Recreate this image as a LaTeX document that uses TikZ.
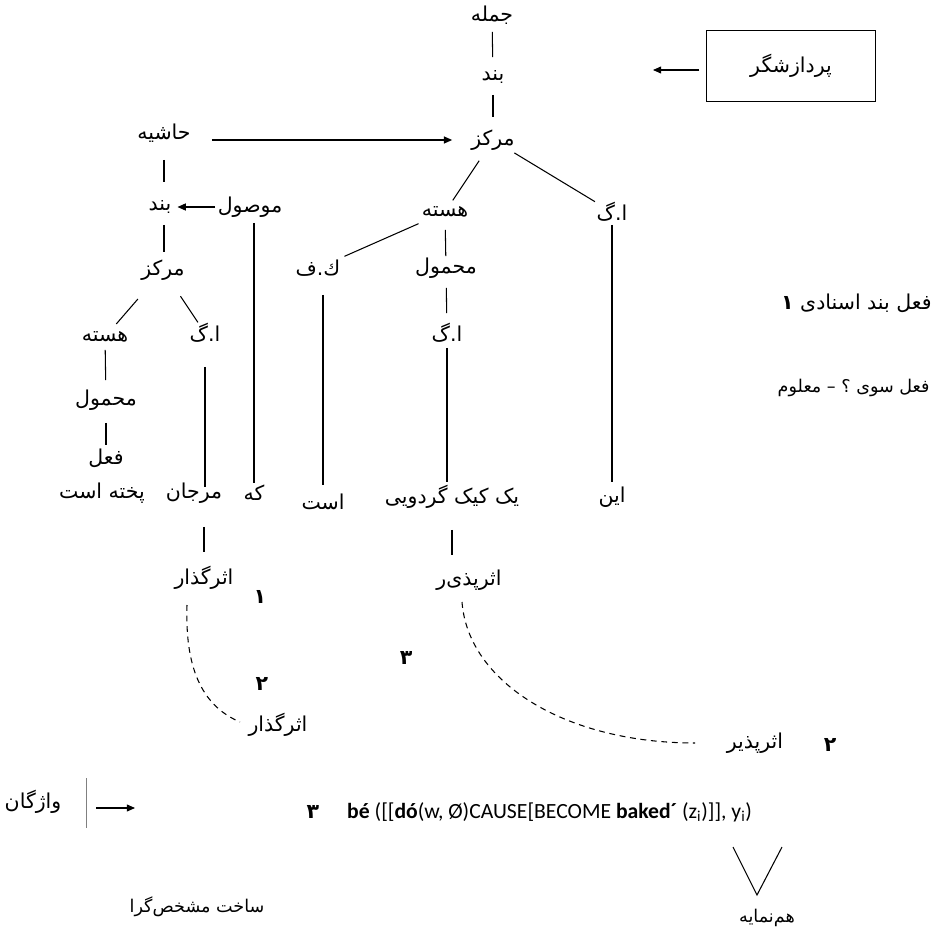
\documentclass[tikz,border=0pt]{standalone}
\usepackage{fontspec}
\usetikzlibrary{arrows.meta}
\TeXXeTstate=1
\newfontfamily\farsifont[Script=Arabic]{DejaVu Sans}
\newfontfamily\lsrfont{Carlito}
\newcommand{\fatext}[1]{{\farsifont\beginR #1\endR}}

\begin{document}
\begin{tikzpicture}[
    x=0.03cm, y=-0.03cm,
    >={Triangle[length=7pt, width=6pt]},
    %% ── node styles ──────────────────────────────────────────────────────────
    fanode/.style={inner sep=1pt, font=\fontsize{17.5}{20}\selectfont},
    fasmall/.style={inner sep=1pt, font=\fontsize{15}{18}\selectfont},
    fanum/.style={fanode, font=\fontsize{17.5}{20}\selectfont\bfseries},
    procbox/.style={draw, line width=0.9pt, minimum width=143.7pt,
        minimum height=61.2pt, font=\fontsize{17.5}{20}\selectfont},
    lsr/.style={inner sep=0pt, font=\lsrfont\fontsize{18.5}{22}\selectfont},
    %% ── edge styles ──────────────────────────────────────────────────────────
    branch/.style={line width=0.9pt},
    link/.style={->, line width=0.9pt},
    trace/.style={line width=0.9pt, dash pattern=on 5pt off 4pt},
    lexbar/.style={line width=0.4pt, draw=gray},
]
\useasboundingbox (0,0) rectangle (934,933);

%% ── Main clause tree ─────────────────────────────────────────────────────────
\node[fanode] (jomle)  at (492,15)  {\fatext{جمله}};
\node[fanode] (band)   at (493,77)  {\fatext{بند}};
\node[fanode] (markaz) at (493,140) {\fatext{مرکز}};
\node[fanode] (hasteh) at (445,212) {\fatext{هسته}};
\node[fanode] (gea)    at (612,212) {\fatext{ا.گ}};
\node[fanode] (fk)     at (318,268) {\fatext{ك.ف}};
\node[fanode] (mahmul) at (446,268) {\fatext{محمول}};
\node[fanode] (geb)    at (447,333) {\fatext{ا.گ}};

%% ── Relative clause (modifier) ───────────────────────────────────────────────
\node[fanode] (hashiye) at (164,133) {\fatext{حاشیه}};
\node[fanode] (band2)   at (160,207) {\fatext{بند}};
\node[fanode] (mowsul)  at (250,207) {\fatext{موصول}};
\node[fanode] (markaz2) at (163,270) {\fatext{مرکز}};
\node[fanode] (hasteh2) at (105,337) {\fatext{هسته}};
\node[fanode] (gel)     at (205,333) {\fatext{ا.گ}};
\node[fanode] (mahmul2) at (106,400) {\fatext{محمول}};
\node[fanode] (feel)    at (106,458) {\fatext{فعل}};

%% ── Sentence words ───────────────────────────────────────────────────────────
\node[fanode] (in)     at (612,497) {\fatext{این}};
\node[fanode] (yekkik) at (452,497) {\fatext{یک کیک گردویی}};
\node[fanode] (est)    at (323,502) {\fatext{است}};
\node[fanode] (ke)     at (254,493) {\fatext{که}};
\node[fanode] (marjan) at (194,493) {\fatext{مرجان}};
\node[fanode] (pokhte) at (102,493) {\fatext{پخته است}};

%% ── Roles ────────────────────────────────────────────────────────────────────
\node[fanode] (agent)    at (204,578) {\fatext{اثرگذار}};
\node[fanode] (patient)  at (469,580) {\fatext{اثرپذی‌ر}};
\node[fanum]  (n1)       at (260,597) {\fatext{۱}};
\node[fanum]  (n2a)      at (262,684) {\fatext{۲}};
\node[fanum]  (n3a)      at (406,658) {\fatext{۳}};
\node[fanode] (agent2)   at (278,725) {\fatext{اثرگذار}};
\node[fanode] (patient2) at (755,743) {\fatext{اثرپذیر}};
\node[fanum]  (n2b)      at (830,745) {\fatext{۲}};

%% ── Processor and notes ──────────────────────────────────────────────────────
\node[procbox] (proc) at (791,66) {\fatext{پردازشگر}};
\node[fanode, anchor=east] (predtype) at (933,303)
    {\fatext{فعل بند اسنادی {\bfseries ۱}}};
\node[fasmall, anchor=east] (voice) at (931,388) {\fatext{فعل سوی ؟ – معلوم}};

%% ── Lexicon and logical structure ────────────────────────────────────────────
\node[fanode] (lexicon) at (33,802) {\fatext{واژگان}};
\node[fanum]  (n3b)     at (313,812) {\fatext{۳}};
\node[lsr, anchor=west] (lsrformula) at (347,812)
    {\textbf{bé} ([[\textbf{dó}(w, Ø)CAUSE[BECOME \textbf{baked´} (z\textsubscript{i})]], y\textsubscript{i})};
\node[fasmall] (specstruct) at (197,907) {\fatext{ساخت مشخص‌گرا}};
\node[fasmall] (coindex)    at (767,918) {\fatext{هم‌نمایه}};

%% ─────────────────────────────────────────────────────────────────────────────
%% Branches
%% ─────────────────────────────────────────────────────────────────────────────
\draw[branch, shorten <=14.5pt, shorten >=17pt]   (jomle.center) -- (band.center);
\draw[branch, shorten <=15.3pt, shorten >=19.6pt] (band.center) -- (markaz.center);
\draw[branch, shorten <=21.3pt, shorten >=11.9pt] (markaz.center) -- (hasteh.center);
\draw[branch, shorten <=21.3pt, shorten >=17pt]   (markaz.center) -- (gea.center);
\draw[branch, shorten <=24.7pt, shorten >=24.7pt] (hasteh.center) -- (fk.center);
\draw[branch, shorten <=15.3pt, shorten >=10.2pt] (hasteh.center) -- (mahmul.center);
\draw[branch, shorten <=17pt, shorten >=17pt]     (mahmul.center) -- (geb.center);
\draw[branch, shorten <=12.8pt, shorten >=12.8pt] (geb.center) -- (geb |- yekkik);
\draw[branch, shorten <=11pt, shorten >=12.8pt]   (gea.center) -- (in.center);
\draw[branch, shorten <=23pt, shorten >=14.5pt]   (est |- fk) -- (est.center);
\draw[branch, shorten <=13.6pt, shorten >=8.5pt]  (ke |- mowsul) -- (ke.center);
\draw[branch, shorten <=28pt, shorten >=21.3pt]   (yekkik.center) -- (yekkik |- patient);

\draw[branch, shorten <=23pt, shorten >=21.3pt]   (hashiye.center) -- (hashiye |- band2);
\draw[branch, shorten <=15.3pt, shorten >=15.3pt] (hashiye |- band2) -- (hashiye |- markaz2);
\draw[branch, shorten <=32.8pt, shorten >=14.7pt] (markaz2.center) -- (hasteh2.center);
\draw[branch, shorten <=26.9pt, shorten >=10.9pt] (markaz2.center) -- (gel.center);
\draw[branch, shorten <=11pt, shorten >=17pt]     (hasteh2.center) -- (mahmul2.center);
\draw[branch, shorten <=19.6pt, shorten >=11pt]   (mahmul2.center) -- (feel.center);
\draw[branch, shorten <=29pt, shorten >=5.1pt]    (gel.center) -- (gel |- marjan);
\draw[branch, shorten <=29pt, shorten >=22pt]     (agent |- marjan) -- (agent.center);

%% ─────────────────────────────────────────────────────────────────────────────
%% Arrows
%% ─────────────────────────────────────────────────────────────────────────────
\draw[link, shorten <=40.8pt, shorten >=34.9pt] (hashiye |- markaz) -- (markaz.center);
\draw[link, shorten <=29.8pt, shorten >=15pt] (mowsul.center) -- (band2.center);

\coordinate (procend) at (653,70);
\draw[link, shorten <=6pt] (proc.west |- procend) -- (procend);

\coordinate (lexstart) at (96,808);
\coordinate (lexend)   at (135,808);
\draw[lexbar] (86,778) -- (86,828);
\draw[link] (lexstart) -- (lexend);

%% ─────────────────────────────────────────────────────────────────────────────
%% Role traces and coindexing
%% ─────────────────────────────────────────────────────────────────────────────
\draw[trace] ([shift={(-17,27)}]agent.center)
    .. controls +(-2,60) and +(-40,-17) .. ([shift={(-38,-3)}]agent2.center);
\draw[trace] ([shift={(-7,22)}]patient.center)
    .. controls +(6,80) and +(-130,0) .. ([shift={(-60,0)}]patient2.center);

\draw[branch] (733,847) -- (757,895) -- (782,847);

\end{tikzpicture}
\end{document}
